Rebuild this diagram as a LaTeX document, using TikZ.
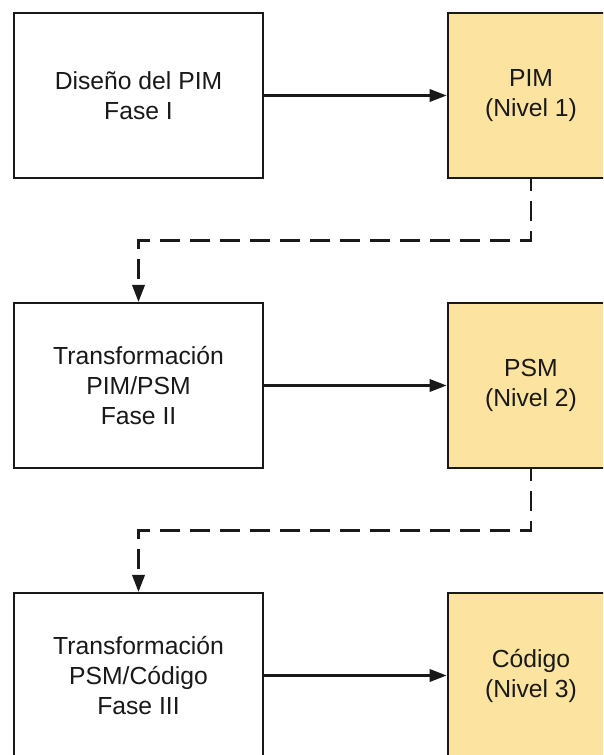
\documentclass[tikz,border=0pt]{standalone}
\usepackage{fontspec}
\setmainfont{Liberation Sans}
\usetikzlibrary{arrows.meta,calc}
\definecolor{modelfill}{RGB}{252,228,160}
\definecolor{inkgray}{RGB}{25,25,25}
\tikzset{
  phasebox/.style={draw=inkgray, line width=2.2pt, fill=white,
    minimum width=249pt, minimum height=165pt, align=center,
    text=inkgray, font=\fontsize{24.7}{30}\selectfont, inner sep=0pt},
  modelbox/.style={phasebox, fill=modelfill, minimum width=166.7pt},
  flow/.style={draw=inkgray, line width=2.2pt,
    -{Triangle[length=17pt,width=12.5pt]}},
  handoff/.style={flow, dash pattern=on 20pt off 10pt, dash phase=8pt}
}
\begin{document}
\begin{tikzpicture}[x=1pt,y=-1pt]
  \useasboundingbox (0,0) rectangle (603,755);
  \clip (0,0) rectangle (603,755);

  % phase boxes (left column)
  \node[phasebox] (d1) at (138.5,95.5)  {Diseño del PIM\\Fase I};
  \node[phasebox] (d2) at (138.5,385.5) {Transformación\\PIM/PSM\\Fase II};
  \node[phasebox] (d3) at (138.5,675.5) {Transformación\\PSM/Código\\Fase III};

  % model boxes (right column)
  \node[modelbox] (m1) at (531,95.5)  {PIM\\(Nivel 1)};
  \node[modelbox] (m2) at (531,385.5) {PSM\\(Nivel 2)};
  \node[modelbox] (m3) at (531,675.5) {Código\\(Nivel 3)};

  % each phase produces its model
  \draw[flow] (d1.east) -- (m1.west);
  \draw[flow] (d2.east) -- (m2.west);
  \draw[flow] (d3.east) -- (m3.west);

  % each model feeds the next phase
  \coordinate (k1) at ($(m1.south)!0.5!(d2.north)$);
  \coordinate (k2) at ($(m2.south)!0.5!(d3.north)$);
  \draw[handoff] (m1.south) |- (k1) -| (d2.north);
  \draw[handoff] (m2.south) |- (k2) -| (d3.north);
\end{tikzpicture}
\end{document}
